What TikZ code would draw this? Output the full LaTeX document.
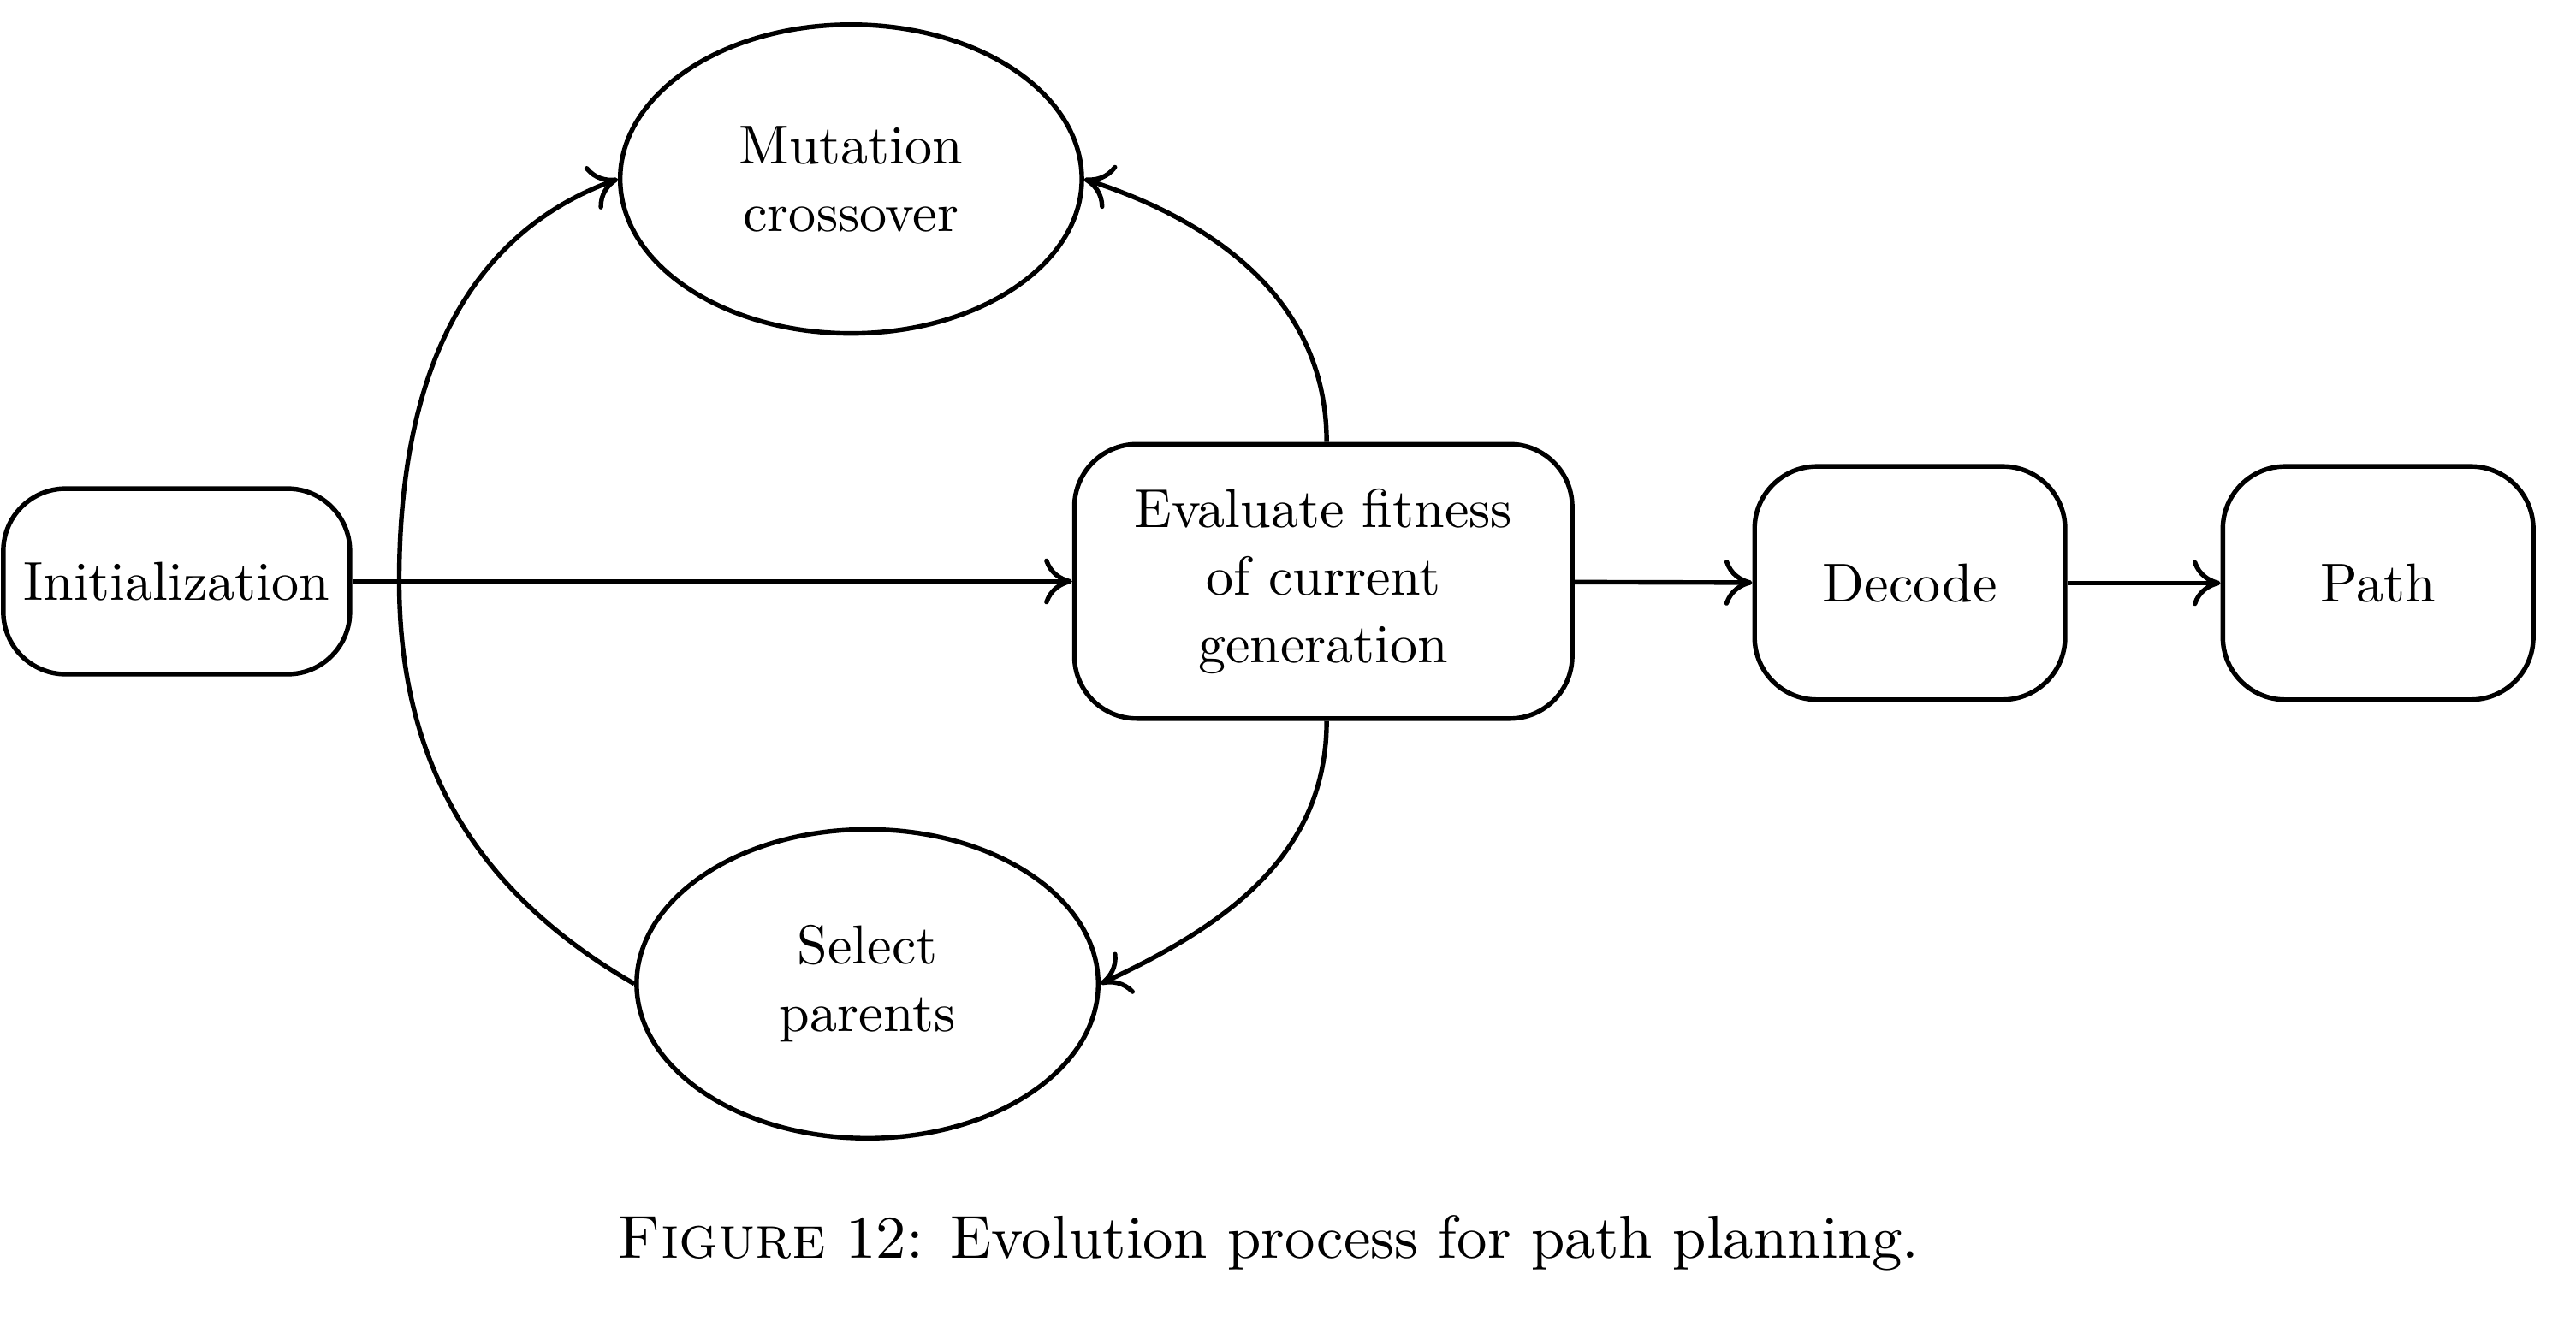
\documentclass[tikz,border=0pt]{standalone}
\usepackage{tikz}
\usetikzlibrary{arrows.meta,shapes.geometric}

\begin{document}
\begin{tikzpicture}[x=1cm,y=1cm,line width=0.8pt,
  every node/.style={font=\fontsize{9.5}{11.7}\selectfont,align=center},
  stepbox/.style={draw,rounded corners=0.38cm,inner sep=0pt},
  oval/.style={draw,ellipse,inner sep=0pt,minimum width=2.81cm,minimum height=1.88cm},
  flow/.style={-{Computer Modern Rightarrow[length=1.7mm,width=2.8mm]}}]
  \useasboundingbox (0,0) rectangle (15.68,8.15);
  \node[stepbox,minimum width=2.11cm,minimum height=1.13cm] (init) at (1.075,4.61) {Initialization};
  \node[stepbox,minimum width=3.03cm,minimum height=1.67cm] (eval) at (8.055,4.61) {Evaluate fitness\\of current\\generation};
  \node[stepbox,minimum width=1.89cm,minimum height=1.42cm] (decode) at (11.625,4.6) {Decode};
  \node[stepbox,minimum width=1.89cm,minimum height=1.42cm] (path) at (14.475,4.6) {Path};
  \node[oval] (mut) at (5.18,7.06) {Mutation\\crossover};
  \node[oval] (sel) at (5.28,2.16) {Select\\parents};
  \coordinate (loop) at (2.43,4.61);
  \draw[flow] (init) -- (eval);
  \draw[flow] (eval) -- (decode);
  \draw[flow] (decode) -- (path);
  \draw[flow] ([xshift=0.02cm]eval.north) to[out=90,in=-18] (mut.east);
  \draw[flow] ([xshift=0.02cm]eval.south) to[out=-90,in=25] (sel.east);
  \draw[flow] (sel.west) to[out=150,in=-90] (loop) to[out=90,in=200] (mut.west);
  \node[font=\fontsize{10.5}{12.5}\selectfont] (caption) at (7.72,0.58) {\textsc{Figure} 12: Evolution process for path planning.};
\end{tikzpicture}
\end{document}
